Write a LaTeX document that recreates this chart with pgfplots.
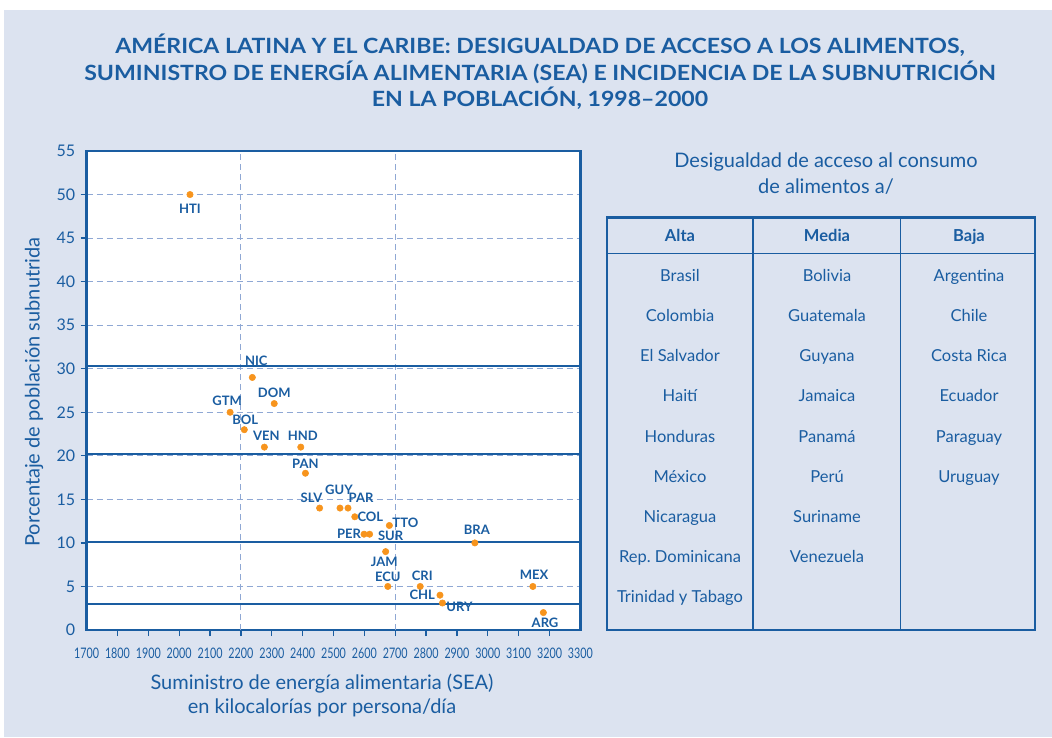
\documentclass[border=0pt]{standalone}
\usepackage{fontspec}
\setmainfont{Lato}
\usepackage{graphicx}
\usepackage{pgfplots}
\pgfplotsset{compat=1.18}
\usepackage{pgfplotstable}
\definecolor{dblue}{HTML}{1A5DA1}
\definecolor{bgblue}{HTML}{DCE3F0}
\definecolor{gridblue}{HTML}{8FA8D4}
\definecolor{dorange}{HTML}{F7941D}

\pgfplotstableread{
x y lab dx dy
2035 50 HTI 0 -14
2237 29 NIC 4 17
2308 26 DOM 0 11
2165 25 GTM -3 11
2211 23 BOL 1 9.5
2276 21 VEN 2 11
2394 21 HND 2 11
2409 18 PAN 0 9.5
2455 14 SLV -8 10
2521 14 GUY -1 18
2547 14 PAR 13 10.6
2569 13 COL 15.6 0
2681 12 TTO 16 3
2599 11 PER -15 0
2617 11 SUR 21 -2
2958 10 BRA 2 12.7
2669 9 JAM -1.4 -10.3
2676 5 ECU 0 9.6
2781 5 CRI 2 10.3
2845 4 CHL -17.7 0
2853 3.1 URY 17 -4.3
3146 5 MEX 1.3 11.3
3180 2 ARG 1.7 -10.3
}\datatable

\begin{document}
\begin{tikzpicture}[x=1pt,y=1pt]
\useasboundingbox (0,0) rectangle (1052,737);
\fill[white] (0,0) rectangle (1052,737);
\fill[bgblue] (4,0) rectangle (1052,727);

\begin{axis}[
  at={(86.6pt,107pt)}, anchor=south west,
  scale only axis, width=493.8pt, height=479pt,
  xmin=1700, xmax=3300, ymin=0, ymax=55,
  axis background/.style={fill=white},
  axis line style={dblue, line width=2.8pt},
  xtick={1800,1900,...,3200}, ytick={5,10,...,50},
  extra x ticks={1700,3300}, extra y ticks={0,55},
  extra x tick style={major tick length=0pt, xticklabel style={yshift=-6pt}},
  extra y tick style={major tick length=0pt, grid=none, yticklabel style={xshift=-6pt}},
  tick style={dblue, line width=1.2pt},
  major tick length=6pt, tick align=outside,
  xtick pos=bottom, ytick pos=left,
  ymajorgrids,
  grid style={gridblue, line width=1pt, dash pattern=on 6pt off 4pt},
  /pgf/number format/1000 sep={},
  /pgf/number format/assume math mode=true,
  tick label style={text=dblue},
  yticklabel style={font=\fontsize{16}{18}\selectfont, xshift=-2pt},
  xticklabel style={font=\fontsize{14.5}{16}\selectfont, yshift=-8pt},
  xticklabel={\scalebox{0.74}[1]{\pgfmathprintnumber{\tick}}},
  clip=false,
]
\addplot[gridblue, line width=1pt, dash pattern=on 6pt off 4pt] coordinates {(2200,0) (2200,55)};
\addplot[gridblue, line width=1pt, dash pattern=on 6pt off 4pt] coordinates {(2700,0) (2700,55)};
\addplot[dblue, line width=2.2pt] coordinates {(1700,30.3) (3300,30.3)};
\addplot[dblue, line width=2.2pt] coordinates {(1700,20.2) (3300,20.2)};
\addplot[dblue, line width=2.2pt] coordinates {(1700,10.1) (3300,10.1)};
\addplot[dblue, line width=2.2pt] coordinates {(1700,2.95) (3300,2.95)};
\addplot[only marks, color=dorange, mark=*, mark size=3.2pt, mark options={fill=dorange, draw=dorange, line width=0.5pt},
  visualization depends on={\thisrow{dx} \as \dx},
  visualization depends on={\thisrow{dy} \as \dy},
  nodes near coords, point meta=explicit symbolic,
  every node near coord/.append style={anchor=center, inner sep=0pt,
    xshift=\dx pt, yshift=\dy pt, text=dblue,
    font=\bfseries\fontsize{13}{14}\selectfont}]
  table[x=x, y=y, meta=lab] {\datatable};
\end{axis}

% title
\node[text=dblue, align=center, font=\bfseries\fontsize{21}{26.5}\selectfont] at (540,665)
  {\scalebox{1.1}[1]{AMÉRICA LATINA Y EL CARIBE: DESIGUALDAD DE ACCESO A LOS ALIMENTOS,}\\
   \scalebox{1.1}[1]{SUMINISTRO DE ENERGÍA ALIMENTARIA (SEA) E INCIDENCIA DE LA SUBNUTRICIÓN}\\
   \scalebox{1.1}[1]{EN LA POBLACIÓN, 1998–2000}};

% axis labels
\node[text=dblue, rotate=90, font=\fontsize{20}{22}\selectfont] at (34,345) {Porcentaje de población subnutrida};
\node[text=dblue, align=center, font=\fontsize{20}{24}\selectfont] at (322,42)
  {Suministro de energía alimentaria (SEA)\\en kilocalorías por persona/día};

% table subtitle
\node[text=dblue, align=center, font=\fontsize{20}{26}\selectfont] at (826,563.3)
  {Desigualdad de acceso al consumo\\de alimentos a/};

% table
\draw[dblue, line width=1.5pt] (607,483.3) -- (1035,483.3);
\draw[dblue, line width=1.5pt] (753,107) -- (753,519.3);
\draw[dblue, line width=1.5pt] (900.7,107) -- (900.7,519.3);
\draw[dblue, line width=2.6pt] (607,107) rectangle (1035,519.3);
\begin{scope}[every node/.style={text=dblue, anchor=base, inner sep=0pt, font=\bfseries\fontsize{16.5}{18}\selectfont}]
\node at (680,495) {Alta};
\node at (827,495) {Media};
\node at (969,495) {Baja};
\end{scope}
\begin{scope}[every node/.style={text=dblue, anchor=base, inner sep=0pt, font=\fontsize{16.5}{18}\selectfont}]
\foreach \t [count=\i from 0] in {Brasil,Colombia,El Salvador,Haití,Honduras,México,Nicaragua,{Rep.\ Dominicana},Trinidad y Tabago}
  \node at (680,455.3-40.1*\i) {\t};
\foreach \t [count=\i from 0] in {Bolivia,Guatemala,Guyana,Jamaica,Panamá,Perú,Suriname,Venezuela}
  \node at (827,455.3-40.1*\i) {\t};
\foreach \t [count=\i from 0] in {Argentina,Chile,Costa Rica,Ecuador,Paraguay,Uruguay}
  \node at (969,455.3-40.1*\i) {\t};
\end{scope}
\end{tikzpicture}
\end{document}
